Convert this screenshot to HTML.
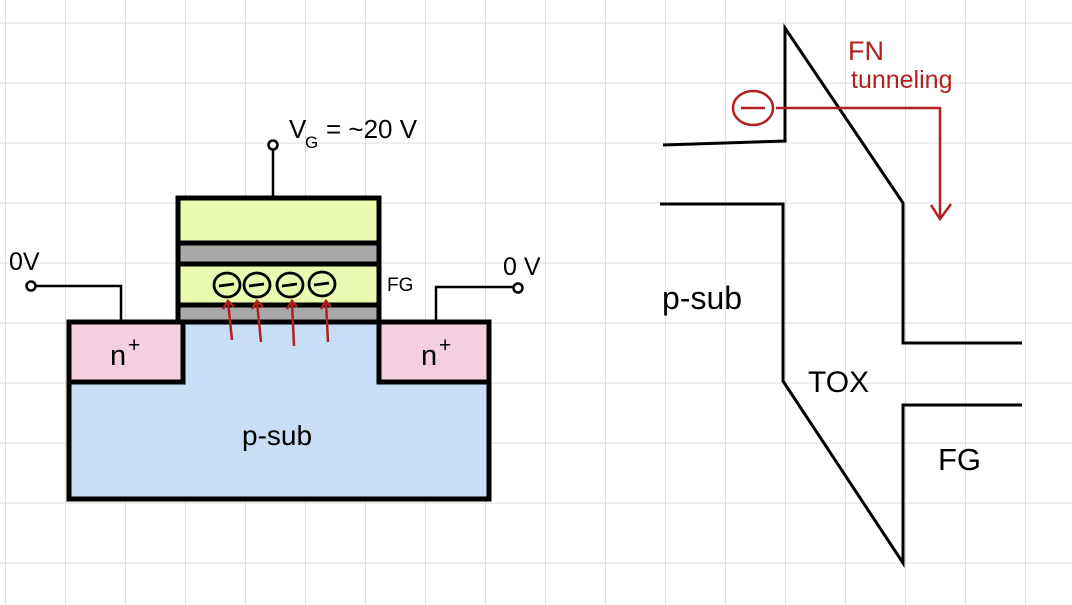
<!DOCTYPE html>
<html><head><meta charset="utf-8"><style>
html,body{margin:0;padding:0;background:#fff;}
svg{display:block;}
text{font-family:"Liberation Sans",sans-serif;}
</style></head><body>
<svg width="1072" height="605" viewBox="0 0 1072 605" xmlns="http://www.w3.org/2000/svg">
<defs>
<pattern id="g" x="5" y="22.7" width="60" height="60" patternUnits="userSpaceOnUse">
<path d="M0 0 V60 M0 0 H60" stroke="#d6d6d6" stroke-width="1.5" fill="none"/>
</pattern>
</defs>
<rect width="1072" height="605" fill="#fff"/>
<rect width="1072" height="605" fill="url(#g)"/>

<rect x="69" y="322" width="420" height="177" fill="#c8def6" stroke="#000" stroke-width="5"/>
<rect x="69" y="322" width="114" height="60" fill="#f5cfdf" stroke="#000" stroke-width="5"/>
<rect x="379" y="322" width="110" height="60" fill="#f5cfdf" stroke="#000" stroke-width="5"/>
<rect x="178" y="198" width="201" height="124" fill="#e9fab0" stroke="#000" stroke-width="5"/>
<rect x="178" y="243" width="201" height="21" fill="#a8a8a8" stroke="#000" stroke-width="5"/>
<rect x="178" y="305" width="201" height="17" fill="#a8a8a8" stroke="#000" stroke-width="5"/>
<line x1="178" y1="322" x2="379" y2="322" stroke="#000" stroke-width="5"/>
<line x1="273" y1="150" x2="273" y2="198" stroke="#000" stroke-width="2.5"/>
<circle cx="273" cy="145" r="4.5" fill="#fff" stroke="#000" stroke-width="2.5"/>
<polyline points="36,286 121,286 121,322" fill="none" stroke="#000" stroke-width="2.5"/>
<circle cx="31" cy="286" r="4.5" fill="#fff" stroke="#000" stroke-width="2.5"/>
<polyline points="513,287 436,287 436,322" fill="none" stroke="#000" stroke-width="2.5"/>
<circle cx="518" cy="288" r="4.5" fill="#fff" stroke="#000" stroke-width="2.5"/>
<g stroke="#000" stroke-width="2.8" fill="#e9fab0">
<ellipse cx="227" cy="285" rx="13" ry="12"/><ellipse cx="257" cy="285" rx="13" ry="12"/>
<ellipse cx="290" cy="285" rx="13" ry="12"/><ellipse cx="322" cy="284" rx="13" ry="12"/>
<line x1="219" y1="286" x2="234" y2="284"/><line x1="249" y1="286" x2="264" y2="284"/>
<line x1="282" y1="286" x2="297" y2="284"/><line x1="314" y1="285" x2="329" y2="283"/>
</g>
<g stroke="#b0201c" stroke-width="2.5" fill="none">
<path d="M232 340 L228 302 M223 309 L228 301 L234 307"/>
<path d="M261 342 L257 302 M252 309 L257 301 L263 307"/>
<path d="M294 346 L292 302 M287 309 L292 301 L297 307"/>
<path d="M328 342 L326 302 M321 309 L326 301 L331 307"/>
</g>
<text x="289" y="138" font-size="26">V</text>
<text x="305" y="148" font-size="17">G</text>
<text x="326" y="138" font-size="26">= ~20 V</text>
<text x="9" y="270" font-size="25">0V</text>
<text x="503" y="275" font-size="25">0 V</text>
<text x="387" y="291" font-size="19">FG</text>
<text x="110" y="365" font-size="29">n</text><text x="128" y="352" font-size="21">+</text>
<text x="421" y="365" font-size="29">n</text><text x="439" y="352" font-size="21">+</text>
<text x="242" y="445" font-size="28">p-sub</text>

<g stroke="#000" stroke-width="3" fill="none">
<polyline points="663,145 785,141 785,28 903,203 903,343 1022,343"/>
<polyline points="660,204 783,204 783,381 903,563 903,405 1022,405"/>
</g>
<ellipse cx="753" cy="108" rx="20" ry="17" fill="none" stroke="#b0201c" stroke-width="2.5"/>
<line x1="741" y1="108" x2="765" y2="108" stroke="#b0201c" stroke-width="2.5"/>
<polyline points="776,108 940,108 940,218" fill="none" stroke="#b0201c" stroke-width="2.5"/>
<polyline points="931,205 940,219 951,204" fill="none" stroke="#b0201c" stroke-width="2.5"/>
<text x="848" y="60" font-size="27" fill="#b0201c">FN</text>
<text x="851" y="88" font-size="25" fill="#b0201c">tunneling</text>
<text x="662" y="309" font-size="32">p-sub</text>
<text x="808" y="392" font-size="30">TOX</text>
<text x="938" y="470" font-size="31">FG</text>
</svg>
</body></html>
